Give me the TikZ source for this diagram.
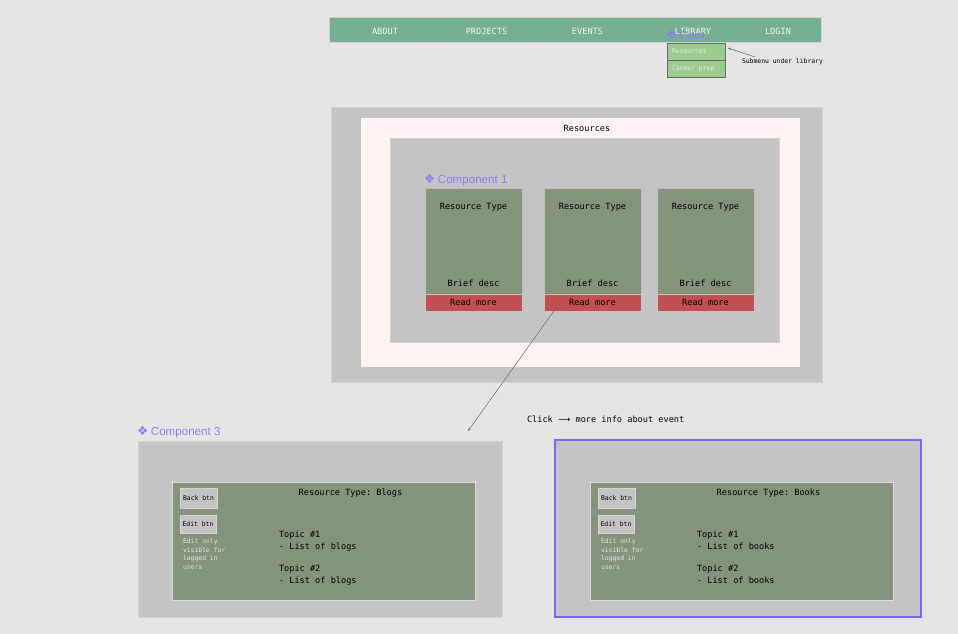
\documentclass[tikz,border=0pt]{standalone}
\usepackage{fontspec}
\setmonofont{DejaVu Sans Mono}
\newfontfamily\symfont{DejaVu Sans}
\newfontfamily\tagfont{Liberation Sans}
\usetikzlibrary{arrows.meta}

\definecolor{canvas}{HTML}{E5E5E5}
\definecolor{navgreen}{HTML}{76AF92}
\definecolor{subgreen}{HTML}{9CCB90}
\definecolor{cardgreen}{HTML}{84937C}
\definecolor{readred}{HTML}{C25050}
\definecolor{panelgray}{HTML}{C4C4C4}
\definecolor{paneledge}{HTML}{D2D2D2}
\definecolor{blush}{HTML}{FDF4F2}
\definecolor{tagpurple}{HTML}{8F7DF5}
\definecolor{selpurple}{HTML}{7B66F5}
\definecolor{inkgray}{HTML}{6A6A6A}

\tikzset{
  rect/.style={draw=none, inner sep=0pt, outer sep=0pt},
  panel/.style={rect, fill=panelgray, draw=paneledge, line width=0.8pt},
  card/.style={rect, fill=cardgreen, draw=panelgray!80!black!20!panelgray, line width=0.6pt,
    minimum width=97pt, minimum height=106pt},
  readbtn/.style={rect, fill=readred, draw=panelgray, line width=0.6pt,
    minimum width=97pt, minimum height=17pt, font=\bodytext},
  subitem/.style={rect, fill=subgreen, draw=inkgray, line width=0.7pt,
    minimum width=58pt, minimum height=17pt},
  smallbtn/.style={rect, fill=panelgray, draw=panelgray!70!white, line width=0.8pt,
    font=\tinytext},
  txt/.style={inner sep=0pt, outer sep=0pt, font=\bodytext},
  tiny/.style={inner sep=0pt, outer sep=0pt, font=\tinytext},
  navtxt/.style={inner sep=0pt, font=\bodytext, text=white!96!black},
  tag/.style={inner sep=0pt, anchor=west, text=tagpurple, font=\tagfont\fontsize{11.6}{13}\selectfont},
  pointer/.style={draw=inkgray, line width=0.5pt, -{Stealth[length=3pt,width=2.4pt]}}
}
\newcommand{\bodytext}{\ttfamily\fontsize{8.6}{12}\selectfont}
\newcommand{\tinytext}{\ttfamily\fontsize{6.4}{8.7}\selectfont}
\newcommand{\comptag}{{\symfont\fontsize{12.5}{13}\selectfont ❖}\hspace{2.5pt}}

\begin{document}
\begin{tikzpicture}[x=1pt,y=-1pt]
  \useasboundingbox (0,0) rectangle (958,634);
  \fill[canvas] (0,0) rectangle (958,634);

  % ---------- navigation bar ----------
  \node[rect, fill=navgreen, draw=paneledge, line width=0.6pt,
        minimum width=492pt, minimum height=25pt] (nav) at (575,29.5) {};
  \node[navtxt] (about)    at (385,31)   {ABOUT};
  \node[navtxt] (projects) at (486.5,31) {PROJECTS};
  \node[navtxt] (events)   at (587.5,31) {EVENTS};
  \node[navtxt] (library)  at (693,31)   {LIBRARY};
  \node[navtxt] (login)    at (778,31)   {LOGIN};

  % submenu under LIBRARY
  \node[subitem] (sub1) at (696,51.5) {};
  \node[subitem] (sub2) at (696,68.5) {};
  \node[tiny, anchor=west, text=white!92!black] (sub1t) at (672,51) {Resources};
  \node[tiny, anchor=west, text=white!92!black] (sub2t) at (672,68.5) {Career prep};
  \node[tag] (comtag) at (666,35.5) {\comptag Com...};

  \node[tiny, anchor=west] (subnote) at (742,61.5) {Submenu under library};
  \coordinate (subnotefrom) at (755,57);
  \coordinate (subnoteto) at (728,48);
  \draw[pointer] (subnotefrom) -- (subnoteto);

  % ---------- resources section ----------
  \node[panel, minimum width=491pt, minimum height=275pt] (outer) at (576.5,244.5) {};
  \node[rect, fill=blush, minimum width=439pt, minimum height=249pt] (sheet) at (580.5,242.5) {};
  \node[txt] (restitle) at (587,128) {Resources};
  \node[panel, minimum width=389pt, minimum height=204pt] (inner) at (584.5,240) {};

  \node[tag] (comp1) at (424,180.5) {\comptag Component 1};

  \foreach \i/\cx in {1/473.5, 2/592.5, 3/705.5} {
    \node[card] (card\i) at (\cx,241) {};
    \node[readbtn] (rm\i) at (\cx,302.5) {Read more};
    \node[txt] (rt\i) at (\cx,207) {Resource Type};
    \node[txt] (bd\i) at (\cx,283) {Brief desc};
  }

  % click connector
  \coordinate (clickfrom) at (556,308);
  \coordinate (clickto) at (468,431);
  \draw[pointer] (clickfrom) -- (clickto);
  \node[txt, anchor=west] (clicknote) at (527,419)
       {Click {\symfont\fontsize{8.6}{12}\selectfont ⟶} more info about event};

  % ---------- detail views ----------
  \node[tag] (comp3) at (137,432.5) {\comptag Component 3};

  \node[panel, minimum width=364pt, minimum height=176pt] (leftframe) at (320,529) {};
  \node[panel, draw=selpurple, line width=2pt, minimum width=366pt, minimum height=177pt]
        (rightframe) at (738,528.5) {};

  \foreach \side/\ox/\kind in {left/0/blogs, right/418/books} {
    \node[rect, fill=cardgreen, draw=panelgray!60!white, line width=0.6pt,
          minimum width=303pt, minimum height=118pt] (\side body) at (323.5+\ox,541) {};
    \node[smallbtn, minimum width=37pt, minimum height=20pt] (\side back) at (198.5+\ox,498) {Back btn};
    \node[smallbtn, minimum width=36pt, minimum height=18pt] (\side edit) at (198+\ox,524) {Edit btn};
    \node[tiny, anchor=north west, align=left, text=white!90!black] (\side note)
          at (183+\ox,538.5) {Edit only\\visible for\\logged in\\users};
    \node[txt, anchor=north west, align=left] (\side topics) at (279+\ox,530.5)
          {Topic \#1\\- List of \kind\\[10pt]Topic \#2\\- List of \kind};
  }
  \node[txt] (lefthead)  at (350.5,493.5) {Resource Type: Blogs};
  \node[txt] (righthead) at (768.5,493.5) {Resource Type: Books};
\end{tikzpicture}
\end{document}
